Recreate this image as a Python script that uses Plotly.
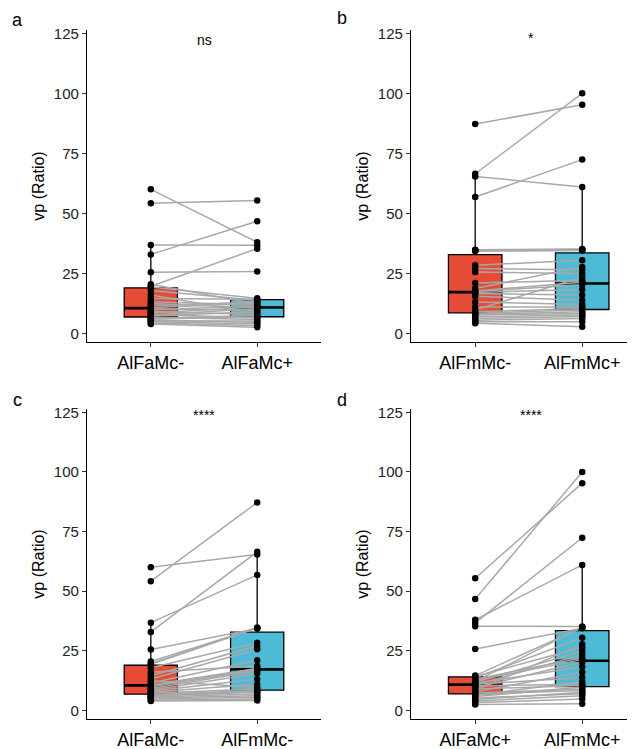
"""
Paired vp (Ratio) comparison: four panels of box plots with paired lines
"""

import numpy as np
import plotly.graph_objects as go

# Per-subject values (same order in every list -> paired observations)
alfamc_minus = [60.0, 54.2, 36.8, 32.9, 25.5, 19.6, 20.5, 19.3, 17.9, 16.0,
                14.5, 13.2, 12.4, 11.5, 10.7, 10.3, 9.8, 9.1, 8.5, 8.0,
                7.6, 7.2, 6.7, 6.4, 6.0, 5.6, 5.2, 4.8, 4.3, 3.9]
alfamc_plus = [38.0, 55.4, 36.7, 46.7, 25.8, 35.3, 12.2, 14.6, 13.7, 8.4,
               14.2, 11.8, 10.6, 13.1, 12.6, 9.6, 11.4, 7.8, 11.0, 6.4,
               10.3, 9.0, 5.8, 7.3, 6.8, 4.6, 5.2, 4.0, 3.3, 2.5]
alfmmc_minus = [65.4, 87.2, 56.8, 66.5, 34.3, 34.8, 34.6, 34.5, 28.4, 18.7,
                27.0, 25.6, 9.7, 21.0, 17.7, 17.4, 17.0, 16.6, 15.5, 13.1,
                11.0, 9.0, 8.4, 8.0, 7.6, 6.9, 6.2, 5.5, 4.8, 4.2]
alfmmc_plus = [61.0, 95.3, 72.4, 100.0, 34.5, 35.2, 34.9, 34.7, 30.5, 27.7,
               26.5, 24.9, 23.5, 22.1, 21.3, 20.3, 18.3, 16.0, 13.8, 12.0,
               11.0, 10.4, 9.8, 9.0, 8.3, 7.6, 7.0, 6.2, 4.8, 2.8]

GROUPS = {
    "AlFaMc-": alfamc_minus,
    "AlFaMc+": alfamc_plus,
    "AlFmMc-": alfmmc_minus,
    "AlFmMc+": alfmmc_plus,
}

panel_letters = ["a", "b", "c", "d"]
panel_pairs = [("AlFaMc-", "AlFaMc+"), ("AlFmMc-", "AlFmMc+"),
               ("AlFaMc-", "AlFmMc-"), ("AlFaMc+", "AlFmMc+")]
panel_signif = ["ns", "*", "****", "****"]

y_ticks = [0, 25, 50, 75, 100, 125]

RED = "#E64B35"
CYAN = "#4DBBD5"
FONT = "Liberation Sans, Arial, sans-serif"

# the page body has an 8px margin, so the figure is drawn 8px in
OFF = 8
W, H = 635 - OFF, 749 - OFF


def box_stats(values):
    """ggplot-style box statistics (type 7 quantiles, 1.5 IQR whiskers)"""
    v = np.asarray(values, dtype=float)
    q1, med, q3 = np.percentile(v, [25, 50, 75])
    iqr = q3 - q1
    lo = v[v >= q1 - 1.5 * iqr].min()
    hi = v[v <= q3 + 1.5 * iqr].max()
    return q1, med, q3, lo, hi


def px(x):
    return (x - OFF) / W


def py(y):
    return 1 - (y - OFF) / H


# screen pixel layout of each panel: (x left, x right, y top, y bottom, x range max)
panel_boxes = [
    (87, 321, 30, 342, 2.6),
    (411, 631, 30, 342, 2.456),
    (87, 321, 409, 719, 2.6),
    (411, 631, 409, 719, 2.456),
]

fig = go.Figure()
layout = {}

for i, (g1, g2) in enumerate(panel_pairs):
    n = i + 1
    xa = "x" if n == 1 else f"x{n}"
    ya = "y" if n == 1 else f"y{n}"
    v1, v2 = GROUPS[g1], GROUPS[g2]

    # boxes
    for pos, vals, color in [(1, v1, RED), (2, v2, CYAN)]:
        q1, med, q3, lo, hi = box_stats(vals)
        fig.add_trace(go.Box(
            x=[pos], q1=[q1], median=[med], q3=[q3],
            lowerfence=[lo], upperfence=[hi],
            width=0.5, whiskerwidth=0,
            fillcolor=color, line=dict(color="black", width=1.3),
            boxpoints=False, hoverinfo="skip", showlegend=False,
            xaxis=xa, yaxis=ya,
        ))
        # thicker median bar like ggplot
        fig.add_trace(go.Scatter(
            x=[pos - 0.25, pos + 0.25], y=[med, med], mode="lines",
            line=dict(color="black", width=2.6),
            hoverinfo="skip", showlegend=False, xaxis=xa, yaxis=ya,
        ))

    # paired lines
    lx, ly = [], []
    for a, b in zip(v1, v2):
        lx += [1, 2, None]
        ly += [a, b, None]
    fig.add_trace(go.Scatter(
        x=lx, y=ly, mode="lines",
        line=dict(color="#A8A8A8", width=1.5),
        hoverinfo="skip", showlegend=False, xaxis=xa, yaxis=ya,
    ))

    # points
    fig.add_trace(go.Scatter(
        x=[1] * len(v1) + [2] * len(v2), y=list(v1) + list(v2),
        mode="markers", marker=dict(color="black", size=6.5),
        hoverinfo="skip", showlegend=False, xaxis=xa, yaxis=ya,
    ))

    left, right, top, bottom, xmax = panel_boxes[i]
    xkey = "xaxis" if n == 1 else f"xaxis{n}"
    ykey = "yaxis" if n == 1 else f"yaxis{n}"
    layout[xkey] = dict(
        domain=[px(left), px(right)], anchor=ya, range=[0.4, xmax],
        tickvals=[1, 2], ticktext=[g1, g2], automargin=False,
        showline=True, linecolor="black", linewidth=1.2,
        ticks="outside", ticklen=4, tickcolor="#333333", tickwidth=1,
        showgrid=False, zeroline=False, fixedrange=True,
        tickfont=dict(family=FONT, size=18, color="black"),
    )
    layout[ykey] = dict(
        domain=[py(bottom), py(top)], anchor=xa, range=[-3.6, 126.4],
        tickvals=y_ticks, automargin=False,
        showline=True, linecolor="black", linewidth=1.2,
        ticks="outside", ticklen=4, tickcolor="#333333", tickwidth=1,
        showgrid=False, zeroline=False, fixedrange=True,
        tickfont=dict(family=FONT, size=15, color="#222222"),
        title=dict(text="vp (Ratio)", standoff=5,
                   font=dict(family=FONT, size=16, color="black")),
    )

annotations = []
letter_pos = [(17, 20), (342, 18), (17, 400), (342, 400)]
for (lx, lyy), letter in zip(letter_pos, panel_letters):
    annotations.append(dict(
        text=letter, x=px(lx), y=py(lyy), xref="paper", yref="paper",
        showarrow=False, xanchor="center", yanchor="middle",
        font=dict(family=FONT, size=18, color="black"),
    ))
signif_pos = [(204, 40), (531, 38), (204, 415), (531, 415)]
for (sx, sy), label in zip(signif_pos, panel_signif):
    annotations.append(dict(
        text=label, x=px(sx), y=py(sy), xref="paper", yref="paper",
        showarrow=False, xanchor="center", yanchor="middle",
        font=dict(family=FONT, size=14, color="black"),
    ))

fig.update_layout(
    width=W, height=H,
    margin=dict(l=0, r=0, t=0, b=0),
    paper_bgcolor="white", plot_bgcolor="white",
    showlegend=False,
    annotations=annotations,
    **layout,
)

fig.write_html("out.html")
